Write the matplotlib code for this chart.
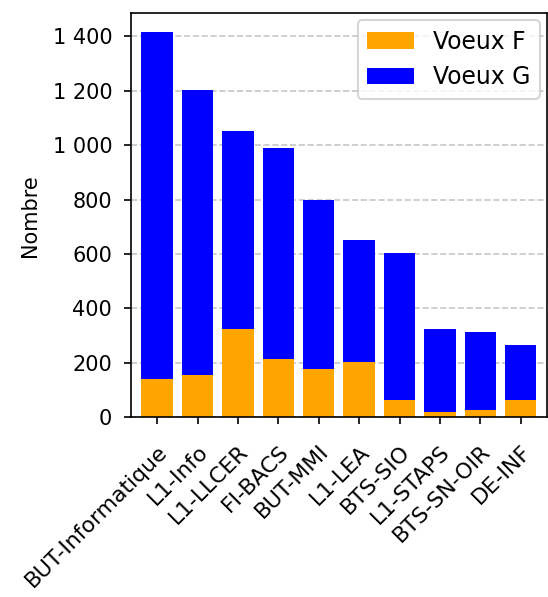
import numpy as np
import matplotlib
matplotlib.use('Agg')
import matplotlib.pyplot as plt
from matplotlib.ticker import FuncFormatter

# formations, triees par nombre total de voeux
formations = ['BUT-Informatique', 'L1-Info', 'L1-LLCER', 'FI-BACS', 'BUT-MMI',
              'L1-LEA', 'BTS-SIO', 'L1-STAPS', 'BTS-SN-OIR', 'DE-INF']
voeux_f = [142, 154, 326, 216, 179, 203, 65, 20, 28, 65]
voeux_g = [1273, 1050, 728, 775, 621, 448, 539, 303, 286, 200]


def milliers(v, pos):
    # separateur de milliers a la francaise
    return '{:,.0f}'.format(v).replace(',', ' ')


def main():
    fig = plt.figure(figsize=(548 / 150, 597 / 150), dpi=150)
    ax = fig.add_axes([0.239, 0.301, 0.759, 0.677])

    x = np.arange(len(formations))
    ax.bar(x, voeux_f, width=0.78, color='orange', label='Voeux F')
    ax.bar(x, voeux_g, width=0.78, bottom=voeux_f, color='blue', label='Voeux G')

    ax.set_axisbelow(True)
    ax.grid(axis='y', linestyle='--', alpha=0.7)
    ax.set_xlim(-0.65, 9.65)
    ax.set_xticks(x)
    ax.set_xticklabels(formations, rotation=45, ha='right', rotation_mode='anchor',
                       fontsize=10.5)
    ax.tick_params(axis='y', pad=5.5)
    ax.tick_params(axis='x', pad=8)
    ax.yaxis.set_major_formatter(FuncFormatter(milliers))
    ax.set_ylabel('Nombre', labelpad=6)
    ax.legend(loc='upper right', fontsize=11.3, borderaxespad=0.3)

    fig.savefig('out.png', dpi=150)


if __name__ == '__main__':
    main()
